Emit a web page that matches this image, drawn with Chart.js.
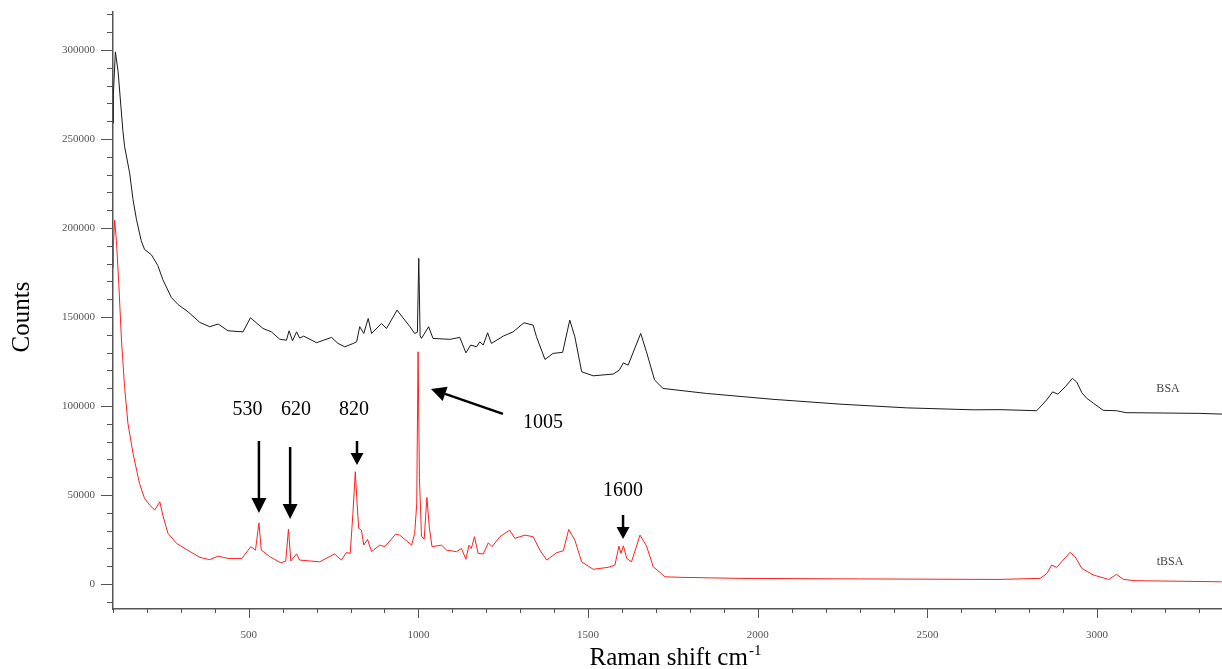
<!DOCTYPE html>
<html>
<head>
<meta charset="utf-8">
<script src="https://cdn.jsdelivr.net/npm/chart.js@4/dist/chart.umd.min.js"></script>
<style>
  html, body { margin: 0; padding: 0; background: #fff; }
  #spectrum { display: block; }
</style>
</head>
<body>
<canvas id="spectrum" width="1222" height="669"></canvas>
<script>
// Raman shift (cm-1) and counts
var shiftBSA = [100, 101, 107, 115, 129, 134, 149, 159, 169, 183, 193, 213, 232, 247, 272, 292, 321, 356, 385, 410,
    439, 483, 505, 542, 567, 591, 611, 619, 629, 641, 650, 662, 700, 744, 763, 783, 808, 818, 827, 839,
    852, 862, 891, 906, 937, 975, 989, 997, 1001, 1005, 1009, 1030, 1043, 1093, 1122, 1140, 1154, 1171, 1181, 1191,
    1204, 1215, 1250, 1279, 1311, 1338, 1348, 1373, 1397, 1425, 1446, 1461, 1481, 1515, 1574, 1592, 1604, 1618, 1655, 1672,
    1696, 1721, 1849, 2045, 2242, 2439, 2635, 2714, 2822, 2851, 2869, 2884, 2906, 2927, 2940, 2955, 2970, 2990, 3018, 3057,
    3085, 3303, 3368];
var countsBSA = [259000, 275000, 299000, 288000, 255000, 246000, 231000, 216000, 205000, 193000, 188000, 185000, 179000, 171000, 161000, 157000, 153000, 147000, 144600, 146100,
    142300, 141700, 149600, 143600, 141700, 137600, 137000, 142300, 136700, 141700, 138200, 139300, 135600, 138600, 135200, 133300, 135200, 136100, 144600, 140800,
    149200, 140800, 146400, 143600, 153900, 144600, 140800, 141500, 183000, 139500, 138000, 144600, 138000, 137500, 138600, 129900, 134300, 133300, 136100, 134300,
    141200, 135200, 139300, 141700, 146800, 145500, 138900, 126200, 129600, 130200, 148300, 138900, 119300, 117000, 118000, 120200, 124300, 123000, 140800, 130500,
    114600, 109900, 107100, 103800, 101100, 99000, 97900, 98000, 97400, 103400, 108000, 106700, 110800, 115600, 113500, 107500, 104300, 101500, 97600, 97400,
    96300, 95900, 95500];

var shiftTBSA = [100, 101, 105, 110, 117, 125, 134, 144, 159, 178, 193, 208, 223, 238, 248, 262, 287, 316, 356, 385,
    410, 439, 480, 506, 520, 530, 537, 562, 594, 609, 617, 624, 641, 650, 709, 753, 773, 788, 799, 807,
    814, 820, 824, 832, 839, 850, 862, 886, 901, 933, 945, 980, 989, 995, 999, 1003, 1009, 1017, 1025, 1032,
    1040, 1068, 1083, 1112, 1127, 1140, 1149, 1156, 1165, 1176, 1191, 1206, 1217, 1240, 1269, 1284, 1314, 1338, 1358, 1378,
    1407, 1427, 1443, 1461, 1481, 1515, 1559, 1579, 1591, 1597, 1604, 1614, 1628, 1653, 1672, 1692, 1712, 1726, 1771, 1947,
    2300, 2708, 2832, 2852, 2866, 2881, 2900, 2920, 2935, 2955, 2989, 3034, 3057, 3078, 3112, 3367];
var countsTBSA = [178000, 190000, 204500, 193000, 169000, 137000, 111000, 90300, 73400, 56600, 48100, 44400, 41600, 46200, 37800, 28500, 22900, 19500, 15000, 13700,
    15700, 14400, 14400, 21000, 19100, 34400, 19100, 15400, 12000, 12800, 30800, 13000, 17000, 13500, 12500, 16900, 13500, 17800, 17200, 39700,
    63100, 43400, 31300, 30300, 21900, 25100, 18200, 21900, 21000, 28100, 27500, 21900, 28500, 45000, 130500, 60000, 27000, 25100, 48700, 32200,
    21000, 21900, 19100, 18200, 20000, 13900, 21900, 20000, 26600, 17200, 16900, 23200, 21000, 26600, 30300, 25700, 27500, 26600, 19100, 13500,
    17600, 18700, 30700, 24700, 12500, 8300, 9400, 10700, 21300, 17200, 21500, 14400, 12500, 27500, 21500, 9700, 6500, 4100, 3800, 3200,
    2900, 2600, 3200, 6000, 10700, 9400, 13500, 17800, 15400, 8800, 5100, 2600, 5400, 2600, 1900, 1300];

// axis ticks
var xTicks = [];
for (var i = 100; i <= 3300; i += 100) xTicks.push(i);
var yTicks = [];
for (var j = -10000; j <= 320000; j += 10000) yTicks.push(j);

// peak annotations: label, text position, arrow tail and tip (shift, counts)
var peakLabels = ['530', '620', '820', '1005', '1600'];
var peakTextAt = [[496, 97800], [639, 97800], [810, 97800], [1367, 90500], [1603, 52300]];
var peakTails = [[530, 80400], [622, 77000], [819, 80400], [1249, 95600], [1603, 38800]];
var peakTips = [[530, 39900], [622, 36600], [819, 66900], [1037, 109600], [1603, 25300]];

var seriesNames = ['BSA', 'tBSA'];
var seriesNameAt = [[3209, 109600], [3215, 12400]];

function toPoints(xs, ys) {
    var pts = [];
    for (var k = 0; k < xs.length; ++k) pts.push({x: xs[k], y: ys[k]});
    return pts;
}

function drawArrow(ctx, x1, y1, x2, y2, headLen, headW) {
    var ang = Math.atan2(y2 - y1, x2 - x1);
    var bx = x2 - headLen * Math.cos(ang), by = y2 - headLen * Math.sin(ang);
    ctx.beginPath();
    ctx.moveTo(x1, y1);
    ctx.lineTo(bx, by);
    ctx.stroke();
    ctx.beginPath();
    ctx.moveTo(x2, y2);
    ctx.lineTo(bx + headW / 2 * Math.sin(ang), by - headW / 2 * Math.cos(ang));
    ctx.lineTo(bx - headW / 2 * Math.sin(ang), by + headW / 2 * Math.cos(ang));
    ctx.closePath();
    ctx.fill();
}

var extras = {
    id: 'extras',
    afterDraw: function (chart) {
        var ctx = chart.ctx, xs = chart.scales.x, ys = chart.scales.y;
        ctx.save();
        // tick marks, long on the labelled ones
        ctx.strokeStyle = '#555';
        ctx.lineWidth = 1;
        ys.ticks.forEach(function (t) {
            var py = Math.round(ys.getPixelForValue(t.value)) + 0.5;
            var len = t.value % 50000 === 0 ? 12 : 6;
            ctx.beginPath();
            ctx.moveTo(ys.right - len, py);
            ctx.lineTo(ys.right, py);
            ctx.stroke();
        });
        xs.ticks.forEach(function (t) {
            var px = Math.round(xs.getPixelForValue(t.value)) + 0.5;
            var len = t.value % 500 === 0 ? 9 : 4;
            ctx.beginPath();
            ctx.moveTo(px, xs.top);
            ctx.lineTo(px, xs.top + len);
            ctx.stroke();
        });

        // axis titles
        ctx.fillStyle = '#000';
        ctx.font = '25px "Liberation Serif", "Times New Roman", serif';
        ctx.textBaseline = 'middle';
        ctx.textAlign = 'center';
        ctx.save();
        ctx.translate(22, 317);
        ctx.rotate(-Math.PI / 2);
        ctx.fillText('Counts', 0, 0);
        ctx.restore();

        var main = 'Raman shift cm', sup = '-1';
        ctx.textAlign = 'left';
        ctx.textBaseline = 'alphabetic';
        var w1 = ctx.measureText(main).width;
        ctx.font = '15px "Liberation Serif", "Times New Roman", serif';
        var w2 = ctx.measureText(sup).width;
        var sx = 675 - (w1 + w2) / 2;
        ctx.font = '25px "Liberation Serif", "Times New Roman", serif';
        ctx.fillText(main, sx, 665);
        ctx.font = '15px "Liberation Serif", "Times New Roman", serif';
        ctx.fillText(sup, sx + w1 + 1, 655);

        // series names
        ctx.fillStyle = '#444';
        ctx.font = '12px "Liberation Serif", "Times New Roman", serif';
        ctx.textAlign = 'center';
        ctx.textBaseline = 'middle';
        for (var n = 0; n < seriesNames.length; ++n) {
            ctx.fillText(seriesNames[n], xs.getPixelForValue(seriesNameAt[n][0]), ys.getPixelForValue(seriesNameAt[n][1]));
        }

        // peak labels and arrows
        ctx.fillStyle = '#000';
        ctx.strokeStyle = '#000';
        ctx.lineWidth = 2.5;
        ctx.font = '20px "Liberation Serif", "Times New Roman", serif';
        for (var p = 0; p < peakLabels.length; ++p) {
            ctx.fillText(peakLabels[p], xs.getPixelForValue(peakTextAt[p][0]), ys.getPixelForValue(peakTextAt[p][1]));
            var x1 = xs.getPixelForValue(peakTails[p][0]), y1 = ys.getPixelForValue(peakTails[p][1]);
            var x2 = xs.getPixelForValue(peakTips[p][0]), y2 = ys.getPixelForValue(peakTips[p][1]);
            var long = Math.hypot(x2 - x1, y2 - y1) > 40;
            drawArrow(ctx, x1, y1, x2, y2, long ? 15 : 12, long ? 15 : 13);
        }
        ctx.restore();
    }
};

new Chart(document.getElementById('spectrum'), {
    type: 'line',
    data: {
        datasets: [{
            label: 'BSA',
            data: toPoints(shiftBSA, countsBSA),
            borderColor: '#1a1a1a',
            borderWidth: 1,
            pointRadius: 0,
            tension: 0
        }, {
            label: 'tBSA',
            data: toPoints(shiftTBSA, countsTBSA),
            borderColor: '#ff2020',
            borderWidth: 1,
            pointRadius: 0,
            tension: 0
        }]
    },
    options: {
        responsive: false,
        animation: false,
        devicePixelRatio: 1,
        layout: {padding: {left: 0, right: 0, top: 12, bottom: 0}},
        plugins: {
            legend: {display: false},
            tooltip: {enabled: false}
        },
        scales: {
            x: {
                type: 'linear',
                min: 100,
                max: 3368,
                afterBuildTicks: function (scale) {
                    scale.ticks = xTicks.map(function (v) { return {value: v}; });
                },
                afterFit: function (scale) {
                    scale.height = 60;
                    scale.paddingLeft = 0;
                    scale.paddingRight = 0;
                },
                grid: {display: false},
                border: {display: true, color: '#555', width: 1.5},
                ticks: {
                    autoSkip: false,
                    maxRotation: 0,
                    padding: 12,
                    color: '#555',
                    font: {family: '"Liberation Serif", serif', size: 11},
                    callback: function (v) { return v % 500 === 0 ? String(v) : ''; }
                }
            },
            y: {
                type: 'linear',
                min: -14000,
                max: 321400,
                afterBuildTicks: function (scale) {
                    scale.ticks = yTicks.map(function (v) { return {value: v}; });
                },
                afterFit: function (scale) {
                    scale.width = 113;
                    scale.paddingTop = 0;
                    scale.paddingBottom = 0;
                },
                grid: {display: false},
                border: {display: true, color: '#555', width: 1.5},
                ticks: {
                    autoSkip: false,
                    padding: 10,
                    color: '#555',
                    font: {family: '"Liberation Serif", serif', size: 11},
                    callback: function (v) { return v % 50000 === 0 ? String(v) : ''; }
                }
            }
        }
    },
    plugins: [extras]
});
</script>
</body>
</html>
